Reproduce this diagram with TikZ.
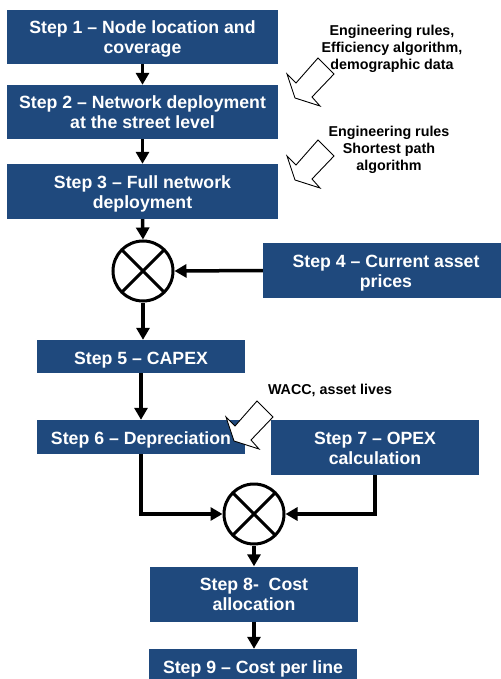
\documentclass[tikz,border=0pt]{standalone}
\usepackage{fontspec}
\setmainfont{Liberation Sans}
\usetikzlibrary{arrows.meta}
\definecolor{boxblue}{RGB}{31,73,125}
\tikzset{
  stepbox/.style={fill=boxblue, text=white, font=\fontsize{17.7bp}{20bp}\selectfont\bfseries, align=center, inner sep=0pt},
  oneline/.style={text height=15.6bp, text depth=0bp},
  twoline/.style={text height=33.5bp, text depth=0bp},
  conn/.style={line width=3.5bp, -{Triangle[length=12bp,width=13bp]}},
  mult/.style={circle, draw, line width=3bp, minimum size=60bp, inner sep=0pt, fill=white,
    path picture={\draw[line width=3bp] (path picture bounding box.north west) -- (path picture bounding box.south east)
      (path picture bounding box.north east) -- (path picture bounding box.south west);}},
  note/.style={font=\fontsize{14.3bp}{17bp}\selectfont\bfseries, align=center, inner sep=0pt},
  hollow/.style={draw, fill=white, line width=0.9bp, line join=miter}
}
\begin{document}
\begin{tikzpicture}[x=1bp,y=-1bp]
\useasboundingbox (0,0) rectangle (501,679);
\begin{scope}
\clip (0,0) rectangle (501,679);
\node[stepbox, twoline, minimum width=271bp, minimum height=54bp] (s1) at (142.5,37) {Step 1 -- Node location and\\coverage};
\node[stepbox, twoline, minimum width=271bp, minimum height=54bp] (s2) at (142.5,112) {Step 2 -- Network deployment\\at the street level};
\node[stepbox, twoline, minimum width=271bp, minimum height=55bp] (s3) at (142.5,191.5) {Step 3 -- Full network\\deployment};
\node[mult] (c1) at (143,271) {};
\node[stepbox, twoline, minimum width=246bp, minimum height=55bp] (s4) at (386,270.5) {Step 4 -- Current asset\\prices};
\node[stepbox, oneline, minimum width=208bp, minimum height=33bp] (s5) at (141,356.5) {Step 5 -- CAPEX};
\node[stepbox, oneline, minimum width=208bp, minimum height=34bp] (s6) at (141,437) {Step 6 -- Depreciation};
\node[stepbox, twoline, minimum width=208bp, minimum height=55bp] (s7) at (375,447.5) {Step 7 -- OPEX\\calculation};
\node[mult] (c2) at (254,514) {};
\node[stepbox, twoline, minimum width=208bp, minimum height=55bp] (s8) at (254,594) {Step 8-~ Cost\\allocation};
\node[stepbox, oneline, minimum width=208bp, minimum height=33bp] (s9) at (253,665.5) {Step 9 -- Cost per line};

\draw[conn] (s1.south) -- (s2.north);
\draw[conn] (s2.south) -- (s3.north);
\draw[conn] (s3.south) -- (c1.north);
\draw[conn] (s4.west) -- (c1.east);
\draw[conn] (c1.south) -- (c1.south |- s5.north);
\draw[conn] (s5.south) -- (s6.north);
\draw[conn] (s6.south) |- (c2.west);
\draw[conn] (s7.south) |- (c2.east);
\draw[conn] (c2.south) -- (s8.north);
\draw[conn] (s8.south) -- (s8.south |- s9.north);

\node[note] (n1) at (392,49) {Engineering rules,\\Efficiency algorithm,\\demographic data};
\node[note] (n2) at (389,149.5) {Engineering rules\\Shortest path\\algorithm};
\node[note] (n3) at (330,390) {WACC, asset lives};

\foreach \dx/\dy in {0/0, 0/82, -61/343}{
  \draw[hollow, shift={(\dx,\dy)}] (318,58) -- (334,74) -- (312,97) -- (320,106) -- (295,98) -- (287,74) -- (296,83) -- cycle;
}
\end{scope}
\end{tikzpicture}
\end{document}
